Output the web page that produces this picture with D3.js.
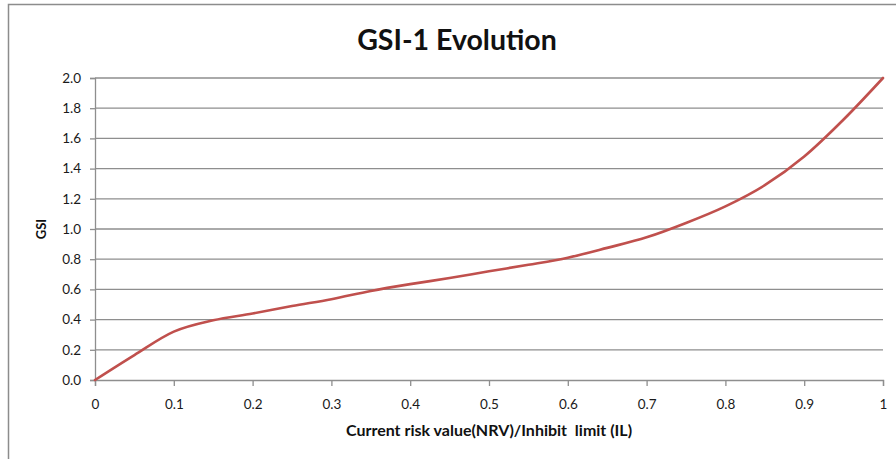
<!DOCTYPE html>
<html>
<head>
<meta charset="utf-8">
<script src="https://cdn.jsdelivr.net/npm/d3@7"></script>
<style>
  html, body { margin: 0; padding: 0; background: #fff; }
  svg { display: block; font-family: Lato, "Open Sans", sans-serif; }
</style>
</head>
<body>
<svg id="chart" width="896" height="459"></svg>
<script>
// GSI-1 as a function of the NRV / IL ratio
const ratio = [0, 0.05, 0.1, 0.15, 0.2, 0.25, 0.3, 0.35, 0.4, 0.45, 0.5,
               0.55, 0.6, 0.65, 0.7, 0.75, 0.8, 0.85, 0.9, 0.95, 1.0];
const gsi   = [0, 0.165, 0.32, 0.395, 0.44, 0.49, 0.535, 0.59, 0.635, 0.675, 0.72,
               0.763, 0.81, 0.875, 0.945, 1.04, 1.15, 1.29, 1.48, 1.725, 2.0];

const xTicks = [0, 0.1, 0.2, 0.3, 0.4, 0.5, 0.6, 0.7, 0.8, 0.9, 1];
const xTickLabels = ["0", "0.1", "0.2", "0.3", "0.4", "0.5", "0.6", "0.7", "0.8", "0.9", "1"];
const yTicks = [0, 0.2, 0.4, 0.6, 0.8, 1.0, 1.2, 1.4, 1.6, 1.8, 2.0];

const titleText = "GSI-1 Evolution";
const xTitle = "Current risk value(NRV)/Inhibit\u00a0 limit (IL)";
const yTitle = "GSI";

const svg = d3.select("#chart");
const W = 896, H = 459;
const m = { left: 95, right: 13, top: 78, bottom: 79 };
const gridColor = "#8e8e8e";

// outer chart frame
svg.append("rect")
  .attr("x", 8.5).attr("y", 4.5)
  .attr("width", W).attr("height", H)
  .attr("fill", "#fff")
  .attr("stroke", "#8c8c8c").attr("stroke-width", 1.5);

const x = d3.scaleLinear().domain([0, 1]).range([m.left, W - m.right]);
const y = d3.scaleLinear().domain([0, 2]).range([H - m.bottom, m.top]);

// horizontal gridlines
svg.append("g")
  .selectAll("line")
  .data(yTicks.filter(d => d > 0))
  .join("line")
  .attr("x1", x(0)).attr("x2", x(1))
  .attr("y1", d => y(d)).attr("y2", d => y(d))
  .attr("stroke", gridColor).attr("stroke-width", 1.3);

// y axis
const yAxis = svg.append("g")
  .attr("transform", `translate(${x(0)},0)`)
  .call(d3.axisLeft(y).tickValues(yTicks).tickFormat(d3.format(".1f")).tickSize(5).tickPadding(9));

// x axis
const xAxis = svg.append("g")
  .attr("transform", `translate(0,${y(0)})`)
  .call(d3.axisBottom(x).tickValues(xTicks)
    .tickFormat((d, i) => xTickLabels[i]).tickSize(6).tickPadding(13));

[yAxis, xAxis].forEach(g => {
  g.select(".domain").attr("stroke", gridColor).attr("stroke-width", 1.3);
  g.selectAll(".tick line").attr("stroke", gridColor).attr("stroke-width", 1.3);
  g.selectAll(".tick text")
    .attr("fill", "#1a1a1a")
    .style("font-size", "13.5px")
    .style("font-family", "Lato, 'Open Sans', sans-serif");
});

// curve
const line = d3.line()
  .x((d, i) => x(ratio[i]))
  .y(d => y(d))
  .curve(d3.curveMonotoneX);

svg.append("path")
  .datum(gsi)
  .attr("d", line)
  .attr("fill", "none")
  .attr("stroke", "#c0504d")
  .attr("stroke-width", 2.6)
  .attr("stroke-linecap", "round");

// titles
svg.append("text")
  .attr("x", 457).attr("y", 50)
  .attr("text-anchor", "middle")
  .attr("font-weight", "bold")
  .attr("font-size", 28.5)
  .attr("fill", "#111")
  .text(titleText);

svg.append("text")
  .attr("x", (x(0) + x(1)) / 2).attr("y", 436)
  .attr("text-anchor", "middle")
  .attr("font-weight", "bold")
  .attr("font-size", 16)
  .attr("fill", "#111")
  .text(xTitle);

svg.append("text")
  .attr("transform", `translate(46,${(y(0) + y(2)) / 2}) rotate(-90)`)
  .attr("text-anchor", "middle")
  .attr("font-weight", "bold")
  .attr("font-size", 13)
  .attr("fill", "#111")
  .text(yTitle);
</script>
</body>
</html>
